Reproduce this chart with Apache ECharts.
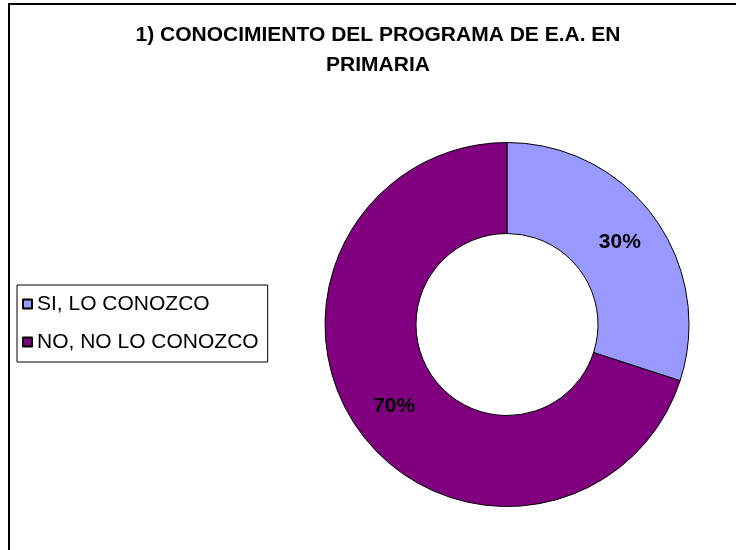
<!DOCTYPE html>
<html>
<head>
<meta charset="utf-8">
<script src="https://cdn.jsdelivr.net/npm/echarts@6/dist/echarts.min.js"></script>
<style>
  html, body { margin: 0; padding: 0; background: #fff; }
  #chart { width: 736px; height: 550px; }
</style>
</head>
<body>
<div id="chart"></div>
<script>
// datos del grafico
var categorias = ['SI, LO CONOZCO', 'NO, NO LO CONOZCO']
var porcentajes = [30, 70]
var colores = ['#9999FF', '#800080']

var myChart = echarts.init(document.getElementById('chart'))

var option = {
    backgroundColor: '#fff',
    animation: false,
    title: {
        text: '1) CONOCIMIENTO DEL PROGRAMA DE E.A. EN\nPRIMARIA',
        left: 378,
        top: 20,
        padding: 0,
        textAlign: 'center',
        textStyle: {
            fontFamily: 'Liberation Sans, Arial, sans-serif',
            fontSize: 21,
            fontWeight: 'bold',
            color: '#000',
            lineHeight: 30
        }
    },
    legend: {
        orient: 'vertical',
        left: 17,
        top: 285,
        padding: [7, 9, 8, 5],
        itemGap: 14,
        itemWidth: 9,
        itemHeight: 9,
        icon: 'rect',
        borderColor: '#000',
        borderWidth: 1,
        data: categorias,
        textStyle: {
            fontFamily: 'Liberation Sans, Arial, sans-serif',
            fontSize: 21,
            color: '#000',
            lineHeight: 24
        }
    },
    graphic: [
        {
            type: 'rect',
            shape: { x: 9, y: 4, width: 740, height: 560 },
            style: { fill: 'none', stroke: '#000', lineWidth: 2 },
            silent: true
        }
    ],
    series: [
        {
            type: 'pie',
            center: [507, 324.5],
            radius: [91, 182],
            startAngle: 90,
            clockwise: true,
            label: {
                show: true,
                position: 'inside',
                formatter: '{d}%',
                fontFamily: 'Liberation Sans, Arial, sans-serif',
                fontSize: 21,
                fontWeight: 'bold',
                color: '#000'
            },
            labelLine: { show: false },
            itemStyle: {
                borderColor: '#000',
                borderWidth: 1
            },
            emphasis: { disabled: true },
            data: categorias.map(function (c, i) {
                return { name: c, value: porcentajes[i], itemStyle: { color: colores[i] } }
            })
        }
    ]
}

myChart.setOption(option)
</script>
</body>
</html>
